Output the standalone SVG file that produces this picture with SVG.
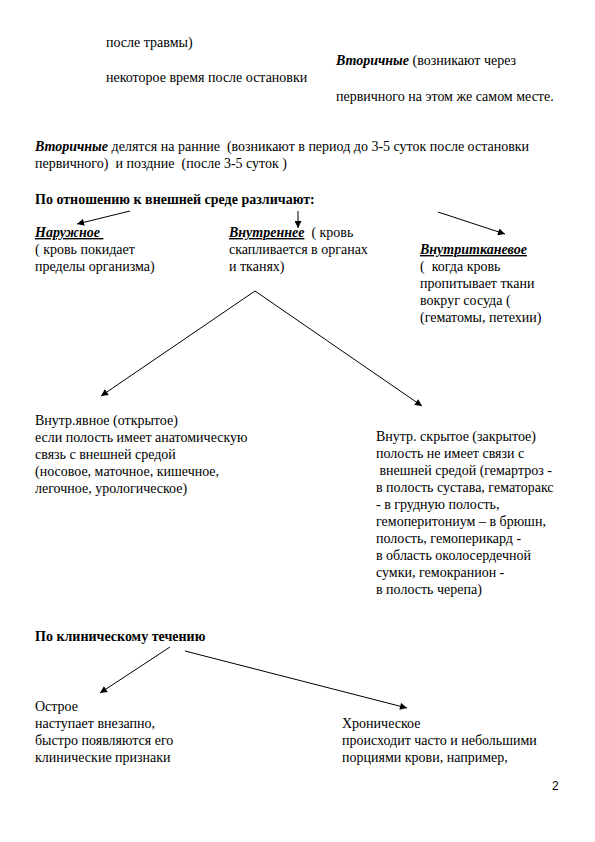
<svg xmlns="http://www.w3.org/2000/svg" width="595" height="842" viewBox="0 0 595 842">
<style>
text{font-family:"Liberation Serif","Times New Roman",serif;font-size:14px;fill:#000;white-space:pre}
.b{font-weight:bold}
.bi{font-weight:bold;font-style:italic}
.u{text-decoration:underline}
.c{stroke:#000;stroke-width:1;fill:none;marker-end:url(#ah)}
</style>
<defs>
<marker id="ah" viewBox="0 0 10 10" refX="10" refY="5" markerWidth="9" markerHeight="7" markerUnits="userSpaceOnUse" orient="auto">
<path d="M0,0 L10,5 L0,10 z" fill="#000"/>
</marker>
</defs>
<rect width="595" height="842" fill="#fff"/>
<g id="top">
<text x="106" y="47">после травмы)</text>
<text x="336" y="65"><tspan class="bi">Вторичные</tspan> (возникают через</text>
<text x="106" y="82">некоторое время после остановки</text>
<text x="336" y="101">первичного на этом же самом месте.</text>
</g>
<g id="secondary">
<text x="35" y="151"><tspan class="bi">Вторичные</tspan> делятся на ранние  (возникают в период до 3-5 суток после остановки</text>
<text x="35" y="168">первичного)  и поздние  (после 3-5 суток )</text>
</g>
<g id="env-title"><text class="b" x="35" y="204">По отношению к внешней среде различают:</text></g>
<g id="external">
<text x="35" y="237"><tspan class="bi u">Наружное </tspan></text>
<text x="35" y="254">( кровь покидает</text>
<text x="35" y="271">пределы организма)</text>
</g>
<g id="internal">
<text x="229" y="237"><tspan class="bi u">Внутреннее</tspan>  ( кровь</text>
<text x="229" y="254">скапливается в органах</text>
<text x="229" y="271">и тканях)</text>
</g>
<g id="interstitial">
<text x="420" y="254"><tspan class="bi u">Внутритканевое</tspan></text>
<text x="420" y="271">(  когда кровь</text>
<text x="420" y="288">пропитывает ткани</text>
<text x="420" y="305">вокруг сосуда (</text>
<text x="420" y="322">(гематомы, петехии)</text>
</g>
<g id="open">
<text x="35" y="425">Внутр.явное (открытое)</text>
<text x="35" y="442">если полость имеет анатомическую</text>
<text x="35" y="459">связь с внешней средой</text>
<text x="35" y="476">(носовое, маточное, кишечное,</text>
<text x="35" y="493">легочное, урологическое)</text>
</g>
<g id="closed">
<text x="376" y="441">Внутр. скрытое (закрытое)</text>
<text x="376" y="458">полость не имеет связи с</text>
<text x="376" y="475"> внешней средой (гемартроз -</text>
<text x="376" y="492">в полость сустава, гематоракс</text>
<text x="376" y="509">- в грудную полость,</text>
<text x="376" y="526">гемоперитониум – в брюшн,</text>
<text x="376" y="543">полость, гемоперикард -</text>
<text x="376" y="560">в область околосердечной</text>
<text x="376" y="577">сумки, гемокранион -</text>
<text x="376" y="594">в полость черепа)</text>
</g>
<g id="clin-title"><text class="b" x="35" y="641">По клиническому течению</text></g>
<g id="acute">
<text x="35" y="711">Острое</text>
<text x="35" y="728">наступает внезапно,</text>
<text x="35" y="745">быстро появляются его</text>
<text x="35" y="762">клинические признаки</text>
</g>
<g id="chronic">
<text x="342" y="728">Хроническое</text>
<text x="342" y="745">происходит часто и небольшими</text>
<text x="342" y="762">порциями крови, например,</text>
</g>
<g id="page"><text x="552" y="790" style="font-family:'Liberation Sans',Arial,sans-serif;font-size:12px">2</text></g>
<g id="connectors">
<line class="c" x1="130" y1="211" x2="77" y2="224"/>
<line class="c" x1="298" y1="211" x2="298" y2="228"/>
<line class="c" x1="438" y1="212" x2="505" y2="234"/>
<line class="c" x1="255" y1="291" x2="101" y2="396"/>
<line class="c" x1="255" y1="291" x2="422" y2="406"/>
<line class="c" x1="170" y1="647" x2="100" y2="693"/>
<line class="c" x1="185" y1="651" x2="407" y2="708"/>
</g>
</svg>
